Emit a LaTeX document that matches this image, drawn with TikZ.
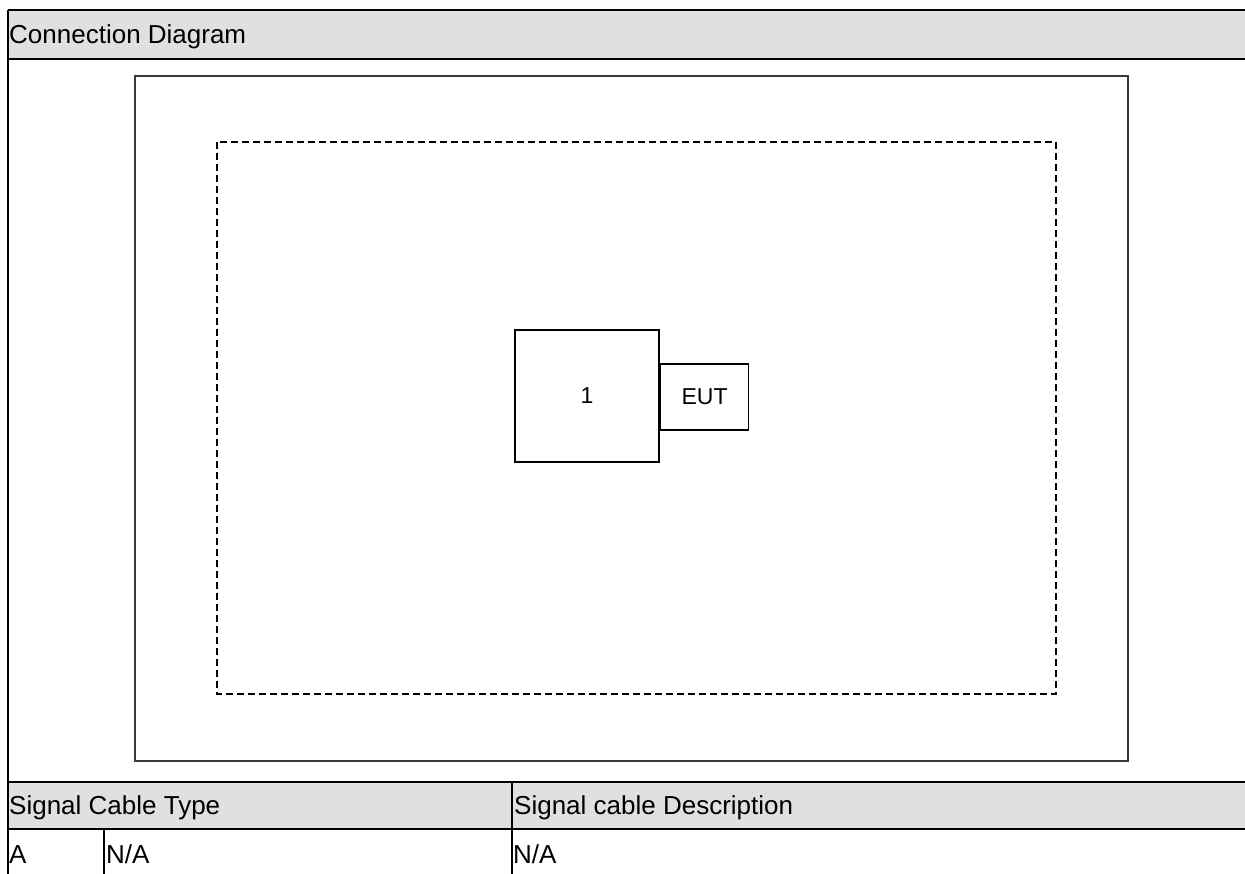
\documentclass[tikz,border=0pt]{standalone}
\usepackage{fontspec}
\setmainfont{Liberation Sans}
\definecolor{hdrgray}{HTML}{E0E0E0}
\definecolor{cadgray}{HTML}{3A3A3A}
\begin{document}
\begin{tikzpicture}[x=1pt,y=-1pt,
  tline/.style={line width=2.5pt,black},
  cell/.style={anchor=base west,inner sep=0pt,font=\fontsize{26}{30}\selectfont},
  frame/.style={draw=cadgray,line width=2pt},
  dashframe/.style={draw=black,line width=2pt,dash pattern=on 7pt off 4pt},
  cadbox/.style={draw=black,line width=1.6pt,inner sep=0pt,font=\fontsize{23}{27}\selectfont}]
\useasboundingbox (0,0) rectangle (1245,874);
% header bands
\fill[hdrgray] (8,10) rectangle (1245,59);
\fill[hdrgray] (8,782) rectangle (1245,829);
% table lines
\draw[tline] (8,10) -- (1245,10);
\draw[tline] (8,59) -- (1245,59);
\draw[tline] (8,782) -- (1245,782);
\draw[tline] (8,829) -- (1245,829);
\draw[tline] (8,10) -- (8,874);
\draw[tline] (512,782) -- (512,874);
\draw[tline] (104,829) -- (104,874);
% texts
\node[cell] (hd) at (9,44) {Connection Diagram};
\node[cell] (sct) at (9,814) {Signal Cable Type};
\node[cell] (scd) at (514,814) {Signal cable Description};
\node[cell] (cola) at (9,863) {A};
\node[cell] (na1) at (106,863) {N/A};
\node[cell] (na2) at (513,863) {N/A};
% diagram
\draw[frame] (135,76) rectangle (1128,761);
\draw[dashframe] (217,142) rectangle (1056,694);
\node[cadbox,minimum width=144pt,minimum height=132pt] (b1) at (587,396) {1};
\node[cadbox,minimum width=88pt,minimum height=66pt,anchor=west] (eut) at (b1.east |- 0,397) {EUT};
\end{tikzpicture}
\end{document}
